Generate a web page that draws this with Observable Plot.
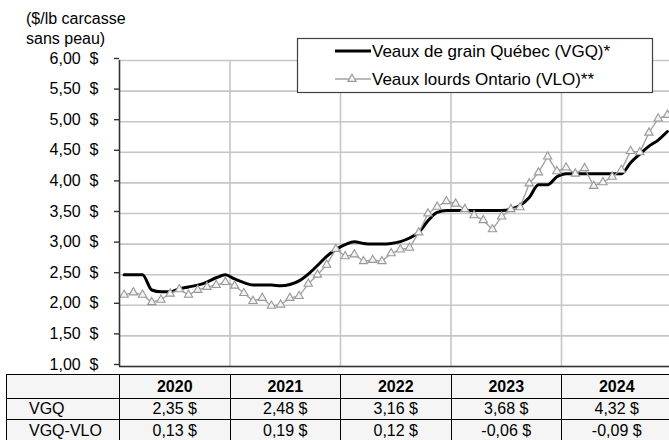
<!DOCTYPE html>
<html><head><meta charset="utf-8">
<script src="https://cdn.jsdelivr.net/npm/d3@7"></script>
<script src="https://cdn.jsdelivr.net/npm/@observablehq/plot@0.6"></script>
<style>
body{margin:0;background:#fff;font-family:"Liberation Sans",Arial,sans-serif;color:#000;}
#wrap{position:relative;width:669px;height:440px;overflow:hidden;background:#fff;}
#wrap > svg{position:absolute;left:0;top:0;}
.abs{position:absolute;white-space:nowrap;}
.cell{position:absolute;box-sizing:border-box;border:1px solid #000;margin-left:-1px;margin-top:-1px;display:flex;align-items:center;font-size:16px;line-height:16px;background:#f5f5f5;}
</style></head><body><div id="wrap"></div>
<script>
// ---- data ----
const years = [2020, 2021, 2022, 2023, 2024];
const yTitle = ["($/lb carcasse", "sans peau)"];
const seriesNames = ["Veaux de grain Québec (VGQ)*", "Veaux lourds Ontario (VLO)**"];
const yTicks = [1, 1.5, 2, 2.5, 3, 3.5, 4, 4.5, 5, 5.5, 6];
// monthly prices, Jan 2020 .. Dec 2024
const vgq = [
  2.50, 2.50, 2.50, 2.25, 2.22, 2.22, 2.27, 2.30, 2.33, 2.38, 2.45, 2.50,
  2.43, 2.37, 2.33, 2.33, 2.33, 2.32, 2.34, 2.40, 2.51, 2.65, 2.80, 2.91,
  2.99, 3.04, 3.01, 3.00, 3.00, 3.01, 3.04, 3.10, 3.19, 3.38, 3.52, 3.55,
  3.55, 3.55, 3.55, 3.55, 3.55, 3.55, 3.57, 3.63, 3.76, 3.97, 3.97, 4.10,
  4.15, 4.15, 4.15, 4.15, 4.15, 4.15, 4.15, 4.33, 4.47, 4.60, 4.70, 4.84
];
const vlo = [
  2.17, 2.21, 2.17, 2.05, 2.09, 2.19, 2.26, 2.17, 2.25, 2.30, 2.33, 2.38,
  2.32, 2.20, 2.07, 2.12, 1.99, 2.01, 2.12, 2.15, 2.35, 2.50, 2.66, 2.92,
  2.80, 2.83, 2.72, 2.74, 2.72, 2.85, 2.91, 2.94, 3.19, 3.50, 3.61, 3.70,
  3.66, 3.57, 3.47, 3.39, 3.24, 3.45, 3.57, 3.60, 3.99, 4.17, 4.43, 4.19,
  4.25, 4.15, 4.24, 3.95, 4.01, 4.10, 4.21, 4.52, 4.50, 4.82, 5.05, 5.11
];
const rowLabels = ["VGQ", "VGQ-VLO"];
const tableVGQ = ["2,35 $", "2,48 $", "3,16 $", "3,68 $", "4,32 $"];
const tableDiff = ["0,13 $", "0,19 $", "0,12 $", "-0,06 $", "-0,09 $"];

// ---- build ----
const toRows = arr => arr.map((v, i) => ({t: years[0] + (i + 0.5) / 12, v}));
const vgqData = toRows(vgq);
const vloData = toRows(vlo);
const fmt = d => d.toFixed(2).replace(".", ",") + "\u00a0\u00a0$";
const font = "'Liberation Sans', Arial, sans-serif";

const plot = Plot.plot({
  width: 669, height: 372,
  marginLeft: 119, marginRight: 0, marginTop: 60, marginBottom: 6,
  style: {fontFamily: font, fontSize: "16px", color: "#000", background: "transparent", overflow: "visible"},
  x: {domain: [years[0], years[years.length - 1] + 1], range: [119, 671.5], axis: null},
  y: {domain: [1, 6], axis: null},
  marks: [
    Plot.gridY(yTicks, {stroke: "#c6c6c6", strokeOpacity: 1, strokeWidth: 1.6}),
    Plot.gridX(years.slice(1), {stroke: "#c6c6c6", strokeOpacity: 1, strokeWidth: 1.6}),
    Plot.line(vgqData, {x: "t", y: "v", stroke: "#000", strokeWidth: 3, curve: "monotone-x"}),
    Plot.line(vloData, {x: "t", y: "v", stroke: "#a3a3a3", strokeWidth: 1.4}),
    Plot.dot(vloData, {x: "t", y: "v", symbol: "triangle", r: 3.1, stroke: "#999", strokeWidth: 1.1, fill: "#f3f3f3"}),
    Plot.ruleX([years[0]], {stroke: "#333", strokeWidth: 1.6}),
    Plot.ruleY([1], {stroke: "#333", strokeWidth: 1.6}),
    Plot.axisY(yTicks, {tickSize: 5, tickPadding: 16, tickFormat: fmt, color: "#000", stroke: "#333", strokeWidth: 1.4, label: null, dy: -2})
  ]
});
const wrap = document.getElementById("wrap");
wrap.appendChild(plot);
const xs = plot.scale("x");
const X = v => xs.apply(v);

// y-axis title
yTitle.forEach((t, i) => {
  const d = document.createElement("div");
  d.className = "abs";
  d.style.cssText = `left:26px;top:${10 + i * 20}px;font-size:16px;line-height:18px;`;
  d.textContent = t;
  wrap.appendChild(d);
});

// legend
const leg = d3.create("svg").attr("width", 669).attr("height", 440)
  .style("position", "absolute").style("left", "0px").style("top", "0px");
leg.append("rect").attr("x", 297.5).attr("y", 38.5).attr("width", 355).attr("height", 54)
  .attr("fill", "#fff").attr("stroke", "#404040").attr("stroke-width", 1.2);
leg.append("line").attr("x1", 335).attr("x2", 371).attr("y1", 51).attr("y2", 51)
  .attr("stroke", "#000").attr("stroke-width", 3);
leg.append("line").attr("x1", 335).attr("x2", 371).attr("y1", 79).attr("y2", 79)
  .attr("stroke", "#a3a3a3").attr("stroke-width", 1.4);
leg.append("path").attr("d", d3.symbol(d3.symbolTriangle, Math.PI * 3.1 * 3.1)())
  .attr("transform", "translate(352,79)").attr("fill", "#f3f3f3").attr("stroke", "#999").attr("stroke-width", 1.1);
seriesNames.forEach((n, i) => {
  leg.append("text").attr("x", 372).attr("y", 57 + i * 28).attr("font-family", font)
    .attr("font-size", 17).text(n);
});
wrap.appendChild(leg.node());

// table below the chart, columns aligned to the x scale
const colEdges = [6, ...years.map(X), X(years[years.length - 1] + 1)];
const rowEdges = [374, 398, 419, 441];
const rows = [
  {label: "", cells: years.map(String), bold: true},
  {label: rowLabels[0], cells: tableVGQ},
  {label: rowLabels[1], cells: tableDiff}
];
rows.forEach((r, ri) => {
  const vals = [r.label, ...r.cells];
  vals.forEach((v, ci) => {
    const d = document.createElement("div");
    d.className = "cell";
    const x0 = colEdges[ci], x1 = colEdges[ci + 1];
    d.style.left = (x0 + 1) + "px";
    d.style.top = (rowEdges[ri] + 1) + "px";
    d.style.width = (x1 - x0 + 1) + "px";
    d.style.height = (rowEdges[ri + 1] - rowEdges[ri] + 1) + "px";
    if (ci === 0) { d.style.paddingLeft = "22px"; }
    else { d.style.justifyContent = "center"; }
    if (r.bold) d.style.fontWeight = "bold";
    d.textContent = v;
    wrap.appendChild(d);
  });
});
</script></body></html>
